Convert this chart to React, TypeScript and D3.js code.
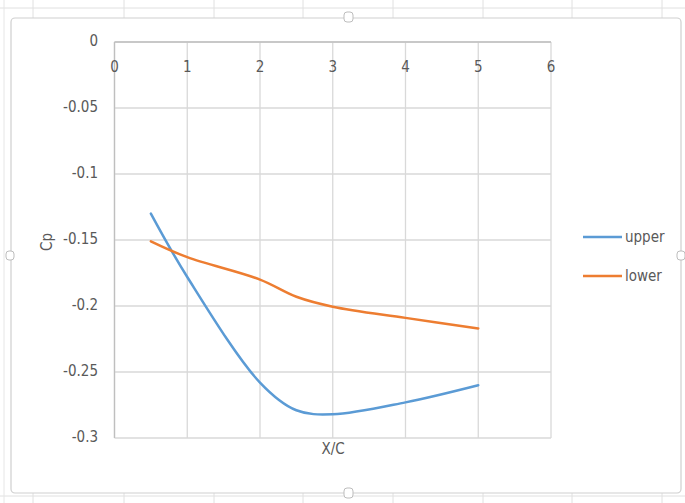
import React from 'react';
import * as d3 from 'd3';

const xValues = [0.5, 1, 2, 2.5, 3, 4, 5];
const upper = [-0.13, -0.178, -0.258, -0.279, -0.282, -0.273, -0.26];
const lower = [-0.151, -0.163, -0.18, -0.193, -0.2005, -0.209, -0.217];
const xTicks = [0, 1, 2, 3, 4, 5, 6];
const yTicks = [0, -0.05, -0.1, -0.15, -0.2, -0.25, -0.3];
const yTickLabels = ['0', '-0.05', '-0.1', '-0.15', '-0.2', '-0.25', '-0.3'];
const seriesNames = ['upper', 'lower'];
const seriesColors = ['#5b9bd5', '#ed7d31'];

const width = 685,
  height = 503;

const left = 114.5,
  right = 551,
  top = 42,
  bottom = 438;

const font = '"Liberation Sans Narrow", "DejaVu Sans Condensed", Arial, sans-serif';
const textColor = '#595959';
const gridColor = '#d9d9d9';

// spreadsheet column borders behind the chart object
const sheetCols = [33, 124, 214, 303, 393, 483, 572, 662];

export default function App() {
  const x = d3.scaleLinear().domain([0, 6]).range([left, right]);
  const y = d3.scaleLinear().domain([0, -0.3]).range([top, bottom]);

  const line = d3
    .line<[number, number]>()
    .curve(d3.curveCatmullRom.alpha(0.5))
    .x(d => x(d[0]))
    .y(d => y(d[1]));

  const series = [upper, lower].map(vals => vals.map((v, i) => [xValues[i], v] as [number, number]));

  return (
    <svg width={width} height={height} style={{ position: 'absolute', left: 0, top: 0, background: '#fff' }}>
      {/* sheet background */}
      <line x1={0} x2={width} y1={8} y2={8} stroke="#e0e0e0" />
      <line x1={0} x2={width} y1={496} y2={496} stroke="#e0e0e0" />
      {sheetCols.map(c => (
        <g key={c}>
          <line x1={c} x2={c} y1={0} y2={18} stroke="#e0e0e0" />
          <line x1={c} x2={c} y1={493} y2={height} stroke="#e0e0e0" />
        </g>
      ))}
      <line x1={4} x2={4} y1={0} y2={height} stroke="#e6e6e6" />

      {/* chart frame */}
      <rect x={11} y={18} width={670} height={475} rx={4} fill="#fff" stroke="#cfcfcf" strokeWidth={1.2} />
      <rect x={344} y={12} width={9} height={10} rx={3} fill="#fff" stroke="#bdbdbd" />
      <rect x={344} y={488} width={9} height={10} rx={3} fill="#fff" stroke="#bdbdbd" />
      <rect x={6} y={251} width={8} height={9} rx={3} fill="#fff" stroke="#bdbdbd" />
      <rect x={677} y={251} width={8} height={9} rx={3} fill="#fff" stroke="#bdbdbd" />

      {/* gridlines */}
      {xTicks.map(t => (
        <line key={'gx' + t} x1={x(t)} x2={x(t)} y1={top} y2={bottom} stroke={gridColor} strokeWidth={1.3} />
      ))}
      {yTicks.map(t => (
        <line key={'gy' + t} x1={left} x2={right} y1={y(t)} y2={y(t)} stroke={gridColor} strokeWidth={1.3} />
      ))}
      <line x1={left} x2={right} y1={y(0)} y2={y(0)} stroke="#bfbfbf" strokeWidth={1.3} />
      <line x1={left} x2={left} y1={top} y2={bottom} stroke="#bfbfbf" strokeWidth={1.3} />

      {/* tick labels */}
      {xTicks.map(t => (
        <text key={'tx' + t} x={x(t)} y={67} textAnchor="middle" dominantBaseline="central" fontFamily={font} fontSize={15} fill={textColor}>
          {t}
        </text>
      ))}
      {yTicks.map((t, i) => (
        <text key={'ty' + t} x={98} y={y(t) - 1} textAnchor="end" dominantBaseline="central" fontFamily={font} fontSize={15} fill={textColor}>
          {yTickLabels[i]}
        </text>
      ))}

      {/* axis titles */}
      <text x={333} y={449} textAnchor="middle" dominantBaseline="central" fontFamily={font} fontSize={15} fill={textColor}>
        X/C
      </text>
      <text transform="translate(47,242) rotate(-90)" textAnchor="middle" dominantBaseline="central" fontFamily={font} fontSize={15} fill={textColor}>
        Cp
      </text>

      {/* series */}
      {series.map((s, i) => (
        <path key={seriesNames[i]} d={line(s) || ''} fill="none" stroke={seriesColors[i]} strokeWidth={2.5} strokeLinecap="round" />
      ))}

      {/* legend */}
      {seriesNames.map((n, i) => (
        <g key={'lg' + n} transform={`translate(583,${237 + i * 39})`}>
          <line x1={0} x2={39} y1={0} y2={0} stroke={seriesColors[i]} strokeWidth={2.5} />
          <text x={42} y={0} dominantBaseline="central" fontFamily={font} fontSize={15} fill={textColor}>
            {n}
          </text>
        </g>
      ))}
    </svg>
  );
}
